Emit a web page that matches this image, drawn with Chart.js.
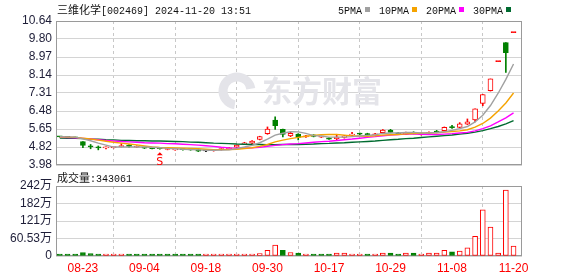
<!DOCTYPE html>
<html><head><meta charset="utf-8">
<script src="https://cdn.jsdelivr.net/npm/chart.js@4.4.1/dist/chart.umd.min.js"></script>
<style>
body{margin:0;background:#fff;}
#wrap{position:relative;width:578px;height:276px;overflow:hidden;background:#fff;}
canvas{position:absolute;left:0;top:0;}
.t{position:absolute;white-space:nowrap;color:#111;line-height:12px;}
.cjk{font-family:"Noto Sans CJK SC";font-size:11px;}
.mono{font-family:"Liberation Mono";font-size:10px;}
.lg{display:inline-block;width:5px;height:5px;margin:0 9px 1px 3px;vertical-align:middle;}
</style></head><body>
<div id="wrap">
<canvas id="pc" width="578" height="276"></canvas>
<canvas id="vc" width="578" height="276"></canvas>
<div class="t" style="left:57px;top:3px"><span class="cjk">三维化学</span><span class="mono">[002469] 2024-11-20 13:51</span></div>
<div class="t" id="legend" style="left:338px;top:3px"></div>
<div class="t" id="volLabel" style="left:57px;top:171px"></div>
</div>
<script>
const dates = ['08-20','08-21','08-22','08-23','08-26','08-27','08-28','08-29','08-30','09-02','09-03','09-04','09-05','09-06','09-09','09-10','09-11','09-12','09-13','09-18','09-19','09-20','09-23','09-24','09-25','09-26','09-27','09-30','10-08','10-09','10-10','10-11','10-14','10-15','10-16','10-17','10-18','10-21','10-22','10-23','10-24','10-25','10-28','10-29','10-30','10-31','11-01','11-04','11-05','11-06','11-07','11-08','11-11','11-12','11-13','11-14','11-15','11-18','11-19','11-20'];
const tickDates = ['08-23','09-04','09-18','09-30','10-17','10-29','11-08','11-20'];
const opens  = [5.30,5.28,5.26,5.06,4.84,4.79,4.77,4.78,4.83,4.87,4.80,4.78,4.76,4.76,4.70,4.68,4.71,4.70,4.69,4.63,4.64,4.69,4.73,4.81,4.96,4.99,5.16,5.43,6.06,5.63,5.33,5.41,5.28,5.37,5.27,5.24,5.20,5.25,5.36,5.45,5.43,5.38,5.47,5.60,5.46,5.40,5.49,5.38,5.45,5.55,5.57,5.76,5.72,5.87,6.06,6.83,7.42,8.76,9.64,10.10];
const highs  = [5.31,5.29,5.27,5.06,4.93,4.86,4.82,4.81,4.97,4.93,4.87,4.79,4.77,4.78,4.73,4.75,4.72,4.71,4.70,4.66,4.70,4.74,4.78,4.91,5.03,5.11,5.31,5.74,6.21,5.64,5.52,5.43,5.35,5.38,5.31,5.25,5.40,5.35,5.49,5.46,5.45,5.44,5.62,5.63,5.48,5.50,5.52,5.47,5.51,5.58,5.74,5.82,5.94,6.11,6.58,7.24,7.96,8.76,9.64,10.10];
const lows   = [5.27,5.25,5.23,4.78,4.73,4.68,4.72,4.76,4.81,4.79,4.79,4.74,4.72,4.71,4.68,4.66,4.67,4.66,4.60,4.60,4.62,4.67,4.71,4.79,4.93,4.97,5.14,5.40,5.62,5.28,5.29,5.14,5.26,5.28,5.25,5.16,5.14,5.22,5.33,5.38,5.35,5.36,5.45,5.47,5.40,5.38,5.42,5.36,5.43,5.47,5.55,5.67,5.70,5.85,5.97,6.72,7.40,8.76,8.26,10.10];
const closes = [5.28,5.26,5.24,4.88,4.82,4.77,4.79,4.80,4.85,4.84,4.82,4.76,4.74,4.73,4.71,4.70,4.69,4.68,4.62,4.63,4.68,4.72,4.76,4.90,4.98,5.09,5.30,5.64,5.80,5.40,5.44,5.25,5.33,5.30,5.29,5.18,5.27,5.33,5.39,5.41,5.37,5.42,5.60,5.49,5.42,5.49,5.45,5.46,5.49,5.50,5.72,5.71,5.88,5.98,6.58,7.24,7.96,8.76,9.18,10.10];
const ma5  = [5.29,5.28,5.27,5.19,5.10,4.99,4.90,4.81,4.81,4.81,4.82,4.81,4.80,4.78,4.75,4.73,4.71,4.70,4.68,4.66,4.66,4.67,4.68,4.74,4.81,4.89,5.01,5.18,5.36,5.45,5.52,5.51,5.44,5.34,5.32,5.27,5.27,5.27,5.29,5.32,5.35,5.38,5.44,5.46,5.46,5.48,5.49,5.46,5.46,5.48,5.52,5.58,5.66,5.76,5.97,6.28,6.73,7.30,7.94,8.65];
const ma10 = [5.27,5.27,5.26,5.22,5.18,5.13,5.08,5.03,4.99,4.95,4.91,4.86,4.81,4.79,4.78,4.77,4.76,4.75,4.73,4.71,4.69,4.69,4.69,4.71,4.74,4.78,4.84,4.93,5.05,5.13,5.20,5.26,5.31,5.35,5.38,5.39,5.39,5.36,5.32,5.32,5.31,5.33,5.36,5.38,5.39,5.42,5.44,5.45,5.46,5.47,5.50,5.53,5.56,5.61,5.73,5.90,6.15,6.48,6.85,7.31];
const ma20 = [5.26,5.25,5.24,5.21,5.18,5.15,5.12,5.09,5.07,5.05,5.03,5.01,5.00,4.99,4.97,4.96,4.94,4.92,4.90,4.87,4.84,4.80,4.77,4.76,4.76,4.77,4.80,4.84,4.89,4.92,4.95,4.97,5.00,5.03,5.06,5.08,5.11,5.15,5.18,5.22,5.26,5.29,5.33,5.36,5.39,5.41,5.41,5.40,5.39,5.39,5.41,5.43,5.46,5.49,5.56,5.66,5.79,5.97,6.16,6.39];
const ma30 = [5.23,5.22,5.21,5.20,5.18,5.17,5.15,5.14,5.12,5.11,5.10,5.10,5.09,5.09,5.08,5.07,5.06,5.04,5.03,5.01,4.99,4.98,4.97,4.95,4.94,4.93,4.93,4.92,4.92,4.93,4.93,4.93,4.94,4.95,4.97,4.98,5.00,5.01,5.03,5.05,5.07,5.09,5.12,5.15,5.17,5.20,5.22,5.25,5.28,5.31,5.34,5.37,5.41,5.45,5.50,5.57,5.66,5.76,5.88,6.03];
// volume in 万手
const volumes = [3,3,3,12,8,3,3,3,3,3,3,3,2.5,3,2.5,2.5,2.5,2.5,3,3,3,3,3,4,6,4,8,20,38,20,12,10,7,7,4,7,10,10,7,4,4,7,10,10,7,10,10,7,10,10,20,14,17,28,68,160,100,10,228,34.3061];
const maNames = ['5PMA','10PMA','20PMA','30PMA'];
const maColors = ['#a0a0a0','#f5a300','#ff00ff','#006b30'];
const priceTickLabels = ['3.98','4.82','5.65','6.48','7.31','8.14','8.97','9.80','10.64'];
const volTickValues = [0,60.53,121.06,181.59,242.12];
const volTickLabels = ['0','60.53万','121万','182万','242万'];
const signals = [{date:'09-06', text:'S'}];

const RED='#ff0000', GREEN='#008000', TXT='#1e1e38', GRID='#d4d4d4', VGRID='#c8c8c8';
const idx = dates.map((_,i)=>i);
const tickIdx = tickDates.map(d=>dates.indexOf(d));
const XMIN=-0.5, XMAX=60.1;
const candleColor = i => opens[i]===closes[i] ? (highs[i]===lows[i] ? RED : '#000') : (closes[i]>opens[i] ? RED : GREEN);
const volUp = i => i===0 ? closes[0]>=opens[0] : closes[i]>=closes[i-1];

document.getElementById('legend').innerHTML = maNames.map((n,k)=>
  `<span class="mono">${n}</span><span class="lg" style="background:${maColors[k]}"></span>`).join('');
document.getElementById('volLabel').innerHTML =
  `<span class="cjk">成交量</span><span class="mono">:${Math.round(volumes[volumes.length-1]*10000)}</span>`;

const frame = {
  id:'frame',
  beforeDatasetsDraw(chart, args, opts){
    const {ctx, chartArea:a} = chart;
    ctx.save();
    if (opts.watermark){
      ctx.fillStyle='#e4e4e9';
      ctx.strokeStyle='#e4e4e9';
      ctx.lineWidth=9;
      ctx.beginPath();
      ctx.arc(237, 91, 14, Math.PI*0.55, Math.PI*1.95);
      ctx.stroke();
      ctx.font='bold 30px "Noto Sans CJK SC"';
      ctx.textBaseline='middle';
      ctx.fillText('东方财富', 262, 91);
    }
    ctx.strokeStyle='#9a9a9a'; ctx.lineWidth=1;
    ctx.strokeRect(Math.round(a.left)+0.5, Math.round(a.top)+0.5, Math.round(a.right-a.left)-1, Math.round(a.bottom-a.top)-1);
    ctx.restore();
  },
  afterDatasetsDraw(chart, args, opts){
    if (!opts.signals) return;
    const {ctx} = chart; const xs=chart.scales.x, ys=chart.scales.y;
    ctx.save();
    signals.forEach(s=>{
      const i = dates.indexOf(s.date);
      const x = xs.getPixelForValue(i);
      const y = ys.getPixelForValue(lows[i]) + 3;
      ctx.fillStyle=RED;
      ctx.beginPath(); ctx.moveTo(x,y); ctx.lineTo(x-3,y+3); ctx.lineTo(x+3,y+3); ctx.closePath(); ctx.fill();
      ctx.font='11px "DejaVu Sans"'; ctx.textAlign='center'; ctx.textBaseline='top';
      ctx.fillText(s.text, x, y+4);
    });
    ctx.restore();
  }
};

Chart.defaults.font.family = '"Liberation Sans","Noto Sans CJK SC"';
Chart.defaults.font.size = 12;

new Chart(document.getElementById('pc'), {
  type:'bar',
  data:{datasets:[
    ...maNames.map((n,k)=>({type:'line', label:n, data: idx.map(i=>({x:i, y:[ma5,ma10,ma20,ma30][k][i]})),
      borderColor:maColors[k], borderWidth:1.4, pointRadius:0, tension:0, fill:false, order:1})),
    {type:'bar', label:'body', data: idx.map(i=>({x:i, y:[opens[i], closes[i]]})),
      backgroundColor: idx.map(i=> closes[i]>opens[i] ? '#ffffff' : candleColor(i)),
      borderColor: idx.map(candleColor), borderWidth:1, borderSkipped:false,
      barThickness:5, minBarLength:1, grouped:false, order:2},
    {type:'bar', label:'wick', data: idx.map(i=>({x:i, y:[lows[i], highs[i]]})),
      backgroundColor: idx.map(candleColor), barThickness:1, grouped:false, order:3}
  ]},
  options:{
    responsive:false, animation:false, events:[],
    layout:{padding:{left:0, right:56, top:21, bottom:111}},
    plugins:{legend:{display:false}, tooltip:{enabled:false}, frame:{watermark:true, signals:true}},
    scales:{
      x:{type:'linear', min:XMIN, max:XMAX, offset:false,
         afterBuildTicks:s=>{ s.ticks = tickIdx.map(v=>({value:v})); },
         afterFit:s=>{ s.height=0; },
         ticks:{display:false},
         grid:{color:VGRID, drawTicks:false},
         border:{display:false, dash:[3,3]}},
      y:{type:'linear', min:3.98, max:10.64,
         afterBuildTicks:s=>{ s.ticks = priceTickLabels.map((_,k)=>({value: 3.98 + k*(10.64-3.98)/8})); },
         afterFit:s=>{ s.width=56; },
         ticks:{color:TXT, padding:4, callback:(v,k)=>priceTickLabels[k], font:{size:12}},
         grid:{color:GRID, drawTicks:false},
         border:{display:false}}
    }
  },
  plugins:[frame]
});

new Chart(document.getElementById('vc'), {
  type:'bar',
  data:{datasets:[
    {label:'vol', data: idx.map(i=>({x:i, y:volumes[i]})),
      backgroundColor: idx.map(i=> volUp(i) ? '#ffffff' : GREEN),
      borderColor: idx.map(i=> volUp(i) ? RED : GREEN),
      borderWidth:1, borderSkipped:false, barThickness:5, minBarLength:2, grouped:false}
  ]},
  options:{
    responsive:false, animation:false, events:[],
    layout:{padding:{left:0, right:56, top:186, bottom:0}},
    plugins:{legend:{display:false}, tooltip:{enabled:false}, frame:{}},
    scales:{
      x:{type:'linear', min:XMIN, max:XMAX, offset:false,
         afterBuildTicks:s=>{ s.ticks = tickIdx.map(v=>({value:v})); },
         afterFit:s=>{ s.height=20; },
         ticks:{color:RED, padding:5, autoSkip:false, maxRotation:0, callback:v=>dates[v], font:{size:12}},
         grid:{color:VGRID, drawTicks:false},
         border:{display:false, dash:[3,3]}},
      y:{type:'linear', min:0, max:242.12,
         afterBuildTicks:s=>{ s.ticks = volTickValues.map(v=>({value:v})); },
         afterFit:s=>{ s.width=56; },
         ticks:{color:TXT, padding:4, callback:(v,k)=>volTickLabels[k], font:{size:12}},
         grid:{color:GRID, drawTicks:false},
         border:{display:false}}
    }
  },
  plugins:[frame]
});
</script>
</body></html>
